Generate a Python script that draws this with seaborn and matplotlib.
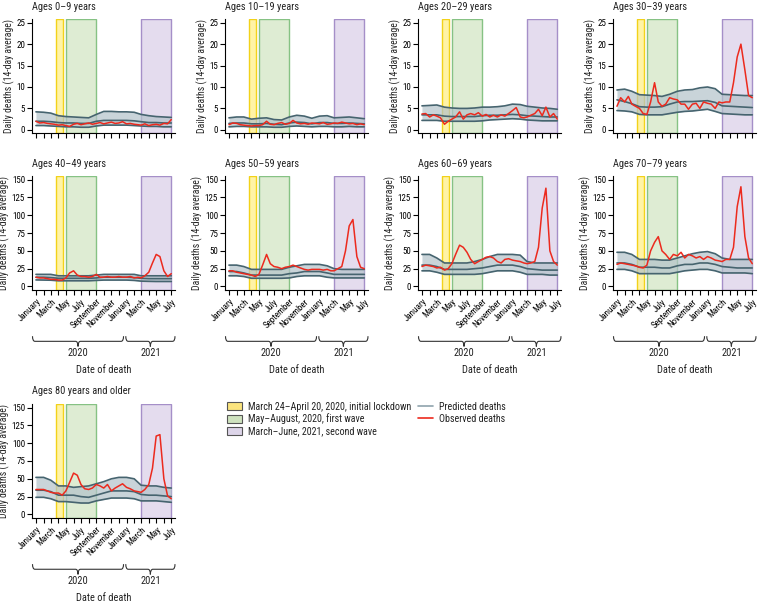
import numpy as np
import pandas as pd
import seaborn as sns
import matplotlib.pyplot as plt
import matplotlib.dates as mdates
from matplotlib.path import Path
from matplotlib.patches import PathPatch, Patch
from matplotlib.lines import Line2D

# date grids: monthly for the predicted band, twice a month for observed deaths
MONTHS = pd.date_range('2020-01-01', '2021-07-01', freq='MS')
HALF_MONTHS = pd.DatetimeIndex(sorted(list(MONTHS) + list(MONTHS[:-1] + pd.Timedelta(days=15))))

MONTH_LABELS = ['January', '', 'March', '', 'May', '', 'July', '', 'September', '',
                'November', '', 'January', '', 'March', '', 'May', '', 'July']

# ---- values ----
A0_UP = [4.2, 4.1, 3.9, 3.3, 3.1, 3.0, 2.9, 2.8, 3.6, 4.3, 4.3, 4.2, 4.2, 4.1, 3.6, 3.3, 3.1, 3.0, 2.9]
A0_MID = [2.0, 2.0, 1.9, 1.7, 1.6, 1.6, 1.5, 1.5, 2.0, 2.2, 2.2, 2.2, 2.2, 2.1, 1.9, 1.7, 1.7, 1.6, 1.6]
A0_LOW = [1.0, 1.0, 0.9, 0.8, 0.7, 0.7, 0.6, 0.6, 0.9, 1.1, 1.1, 1.1, 1.1, 1.0, 0.9, 0.8, 0.8, 0.7, 0.7]
A0_OBS = [2.0, 1.6, 1.7, 1.5, 1.4, 1.3, 1.1, 1.2, 1.0, 0.8, 1.3, 1.5, 1.2, 1.4, 1.6, 1.3, 1.5, 1.7, 1.4,
          1.6, 1.8, 1.5, 1.6, 1.9, 1.4, 1.5, 1.3, 1.2, 1.1, 1.4, 1.0, 1.2, 1.3, 1.1, 1.5, 1.4, 2.4]

A10_UP = [2.8, 3.0, 3.0, 2.5, 2.7, 2.8, 2.4, 2.3, 3.0, 3.4, 3.2, 2.7, 3.2, 3.3, 2.8, 2.9, 3.0, 2.8, 2.6]
A10_MID = [1.5, 1.6, 1.6, 1.4, 1.4, 1.5, 1.3, 1.2, 1.6, 1.8, 1.7, 1.4, 1.7, 1.7, 1.5, 1.5, 1.6, 1.5, 1.4]
A10_LOW = [0.7, 0.8, 0.8, 0.7, 0.7, 0.7, 0.6, 0.6, 0.8, 0.9, 0.8, 0.7, 0.8, 0.8, 0.7, 0.7, 0.8, 0.7, 0.7]
A10_OBS = [1.2, 1.6, 1.5, 1.2, 1.1, 1.0, 0.9, 1.0, 1.0, 1.2, 2.0, 1.3, 1.2, 1.5, 1.7, 1.3, 1.5, 2.2, 1.6,
           1.4, 1.5, 1.3, 1.6, 1.5, 1.4, 1.7, 1.3, 1.4, 1.6, 1.5, 1.8, 1.6, 1.4, 1.5, 1.2, 1.4, 1.2]

A20_UP = [5.6, 5.7, 5.8, 5.3, 5.1, 5.0, 5.0, 5.1, 5.3, 5.3, 5.4, 5.6, 6.0, 5.9, 5.5, 5.3, 5.1, 5.0, 4.8]
A20_MID = [3.5, 3.5, 3.5, 3.2, 3.1, 3.1, 3.1, 3.1, 3.3, 3.4, 3.4, 3.5, 3.6, 3.5, 3.3, 3.2, 3.1, 3.0, 3.0]
A20_LOW = [2.2, 2.2, 2.2, 2.0, 2.0, 2.0, 2.0, 2.0, 2.1, 2.3, 2.4, 2.5, 2.6, 2.5, 2.3, 2.2, 2.1, 2.1, 2.1]
A20_OBS = [3.7, 3.8, 3.0, 3.5, 3.2, 2.8, 1.3, 2.0, 2.5, 3.0, 4.2, 2.5, 3.5, 3.8, 3.5, 4.0, 3.2, 3.6, 3.0,
           3.4, 3.0, 3.5, 3.2, 3.8, 4.5, 5.2, 3.0, 2.8, 3.0, 3.4, 3.8, 4.8, 3.3, 5.3, 3.0, 3.8, 2.5]

A30_UP = [9.3, 9.5, 9.0, 8.2, 8.1, 8.0, 7.8, 8.3, 9.0, 9.3, 9.4, 9.8, 10.0, 9.6, 8.3, 8.2, 8.1, 8.0, 8.0]
A30_MID = [7.0, 6.6, 6.1, 5.4, 5.3, 5.3, 5.4, 6.0, 6.5, 6.6, 6.6, 6.7, 6.8, 6.4, 5.6, 5.5, 5.4, 5.3, 5.2]
A30_LOW = [4.5, 4.4, 4.2, 3.6, 3.5, 3.5, 3.5, 3.8, 4.1, 4.3, 4.4, 4.6, 4.8, 4.3, 3.8, 3.7, 3.6, 3.5, 3.5]
A30_OBS = [5.5, 7.5, 6.5, 7.8, 6.0, 5.5, 5.0, 3.8, 3.6, 6.5, 11.0, 6.5, 5.5, 6.0, 7.5, 7.2, 7.0, 6.0, 6.0,
           4.8, 6.0, 6.2, 5.0, 6.5, 6.2, 6.0, 5.0, 6.5, 6.3, 6.5, 6.5, 11.0, 17.0, 20.0, 14.0, 8.0, 7.5]

A40_UP = [17, 17, 17, 15, 15, 15, 15, 15, 16, 17, 17, 17, 17, 17, 15, 15, 15, 15, 15]
A40_MID = [13, 13, 12.5, 11.5, 11.5, 11.5, 11.5, 11.5, 12, 13, 13, 13, 13, 12.5, 11.5, 11, 11, 11, 11]
A40_LOW = [9.2, 9, 8.8, 8, 8, 8, 8, 8, 8.5, 9, 9, 9, 9, 8.5, 7.5, 7.2, 7, 7, 7]
A40_OBS = [13, 12, 12, 11, 10, 10, 9, 9, 12, 19, 22, 16, 14, 14, 13, 14, 17, 13, 13,
           14, 13, 13, 14, 13, 13, 14, 12, 13, 12, 15, 20, 33, 45, 42, 22, 14, 18]

A50_UP = [30, 30, 28, 24, 24, 24, 24, 24, 27, 29, 31, 31, 31, 29, 25, 24, 24, 24, 24]
A50_MID = [21, 21, 19, 16, 16, 16, 16, 16, 18, 19, 21, 21, 21, 19, 17, 17, 17, 17, 17]
A50_LOW = [15, 15, 14, 11.5, 11.5, 11.5, 11.5, 11.5, 12, 14, 15, 15, 15, 13, 12, 12, 12, 12, 12]
A50_OBS = [22, 22, 20, 19, 18, 17, 16, 14, 17, 30, 45, 32, 28, 27, 25, 27, 28, 30, 28,
           26, 24, 23, 24, 24, 24, 23, 24, 22, 22, 25, 28, 50, 85, 94, 42, 27, 25]

A60_UP = [45, 45, 40, 33, 33, 33, 33, 35, 38, 42, 45, 45, 45, 44, 35, 33, 33, 33, 33]
A60_MID = [30, 30, 28, 24, 24, 24, 24, 25, 26, 28, 30, 30, 30, 28, 25, 24, 23, 23, 23]
A60_LOW = [22, 22, 20, 17, 17, 17, 17, 17, 18, 20, 22, 22, 22, 20, 17, 17, 17, 16, 16]
A60_OBS = [28, 30, 29, 28, 26, 27, 23, 25, 32, 45, 58, 55, 48, 38, 32, 35, 38, 41, 42,
           40, 35, 33, 38, 39, 37, 36, 35, 33, 32, 33, 35, 55, 110, 138, 50, 35, 30]

A70_UP = [48, 48, 45, 38, 38, 38, 37, 37, 40, 43, 46, 48, 49, 46, 40, 38, 38, 38, 38]
A70_MID = [33, 33, 31, 27, 27, 27, 26, 26, 29, 31, 31, 33, 33, 31, 28, 27, 26, 26, 26]
A70_LOW = [24, 24, 22, 18, 18, 18, 18, 18, 20, 22, 23, 24, 24, 22, 19, 19, 19, 19, 18]
A70_OBS = [31, 33, 32, 31, 30, 29, 27, 26, 30, 50, 62, 70, 50, 45, 38, 45, 43, 48, 40,
           45, 43, 40, 42, 38, 42, 40, 37, 36, 35, 38, 38, 55, 112, 140, 70, 40, 32]

A80_UP = [52, 52, 48, 40, 40, 38, 39, 40, 43, 46, 50, 52, 52, 50, 41, 40, 40, 38, 37]
A80_MID = [34, 34, 32, 27, 27, 27, 25, 24, 27, 30, 33, 33, 33, 32, 28, 27, 27, 26, 25]
A80_LOW = [24, 24, 22, 18, 18, 17, 16, 16, 19, 21, 23, 23, 23, 22, 19, 19, 19, 18, 17]
A80_OBS = [35, 35, 35, 33, 31, 30, 30, 27, 33, 45, 58, 55, 42, 36, 35, 37, 42, 40, 37,
           42, 33, 37, 40, 43, 38, 36, 33, 32, 31, 35, 42, 65, 110, 112, 50, 26, 22]

PANELS = [
    ('Ages 0–9 years', A0_UP, A0_MID, A0_LOW, A0_OBS),
    ('Ages 10–19 years', A10_UP, A10_MID, A10_LOW, A10_OBS),
    ('Ages 20–29 years', A20_UP, A20_MID, A20_LOW, A20_OBS),
    ('Ages 30–39 years', A30_UP, A30_MID, A30_LOW, A30_OBS),
    ('Ages 40–49 years', A40_UP, A40_MID, A40_LOW, A40_OBS),
    ('Ages 50–59 years', A50_UP, A50_MID, A50_LOW, A50_OBS),
    ('Ages 60–69 years', A60_UP, A60_MID, A60_LOW, A60_OBS),
    ('Ages 70–79 years', A70_UP, A70_MID, A70_LOW, A70_OBS),
    ('Ages 80 years and older', A80_UP, A80_MID, A80_LOW, A80_OBS),
]

PERIODS = [
    ('2020-03-24', '2020-04-20', '#fff3a6', '#f2d21a', 'March 24–April 20, 2020, initial lockdown', '#fbe47e'),
    ('2020-05-01', '2020-08-31', '#deecd3', '#86c284', 'May–August, 2020, first wave', '#cfe3bf'),
    ('2021-03-01', '2021-06-30', '#e4dcee', '#a58fc8', 'March–June, 2021, second wave', '#ddd5e9'),
]

PRED_COLOR = '#46646f'
BAND_COLOR = '#b3c2ca'
OBS_COLOR = '#ec2a1e'

sns.set_theme(style='ticks', rc={'axes.edgecolor': 'black', 'axes.linewidth': 0.8,
                                 'xtick.color': 'black', 'ytick.color': 'black'})
plt.rcParams['font.family'] = ['Roboto Condensed', 'Lato', 'DejaVu Sans']
plt.rcParams['text.color'] = '#222222'


def brace(ax, x0, x1, y, h, label):
    # curly brace drawn in (data x, axes y) coordinates
    x0 = mdates.date2num(pd.Timestamp(x0))
    x1 = mdates.date2num(pd.Timestamp(x1))
    xm = (x0 + x1) / 2
    d = 10
    verts = [(x0, y + h), (x0, y), (x0 + d, y), (xm - d, y), (xm, y), (xm, y - h),
             (xm, y), (xm + d, y), (x1 - d, y), (x1, y), (x1, y + h)]
    codes = [Path.MOVETO, Path.CURVE3, Path.CURVE3, Path.LINETO, Path.CURVE3, Path.CURVE3,
             Path.CURVE3, Path.CURVE3, Path.LINETO, Path.CURVE3, Path.CURVE3]
    ax.add_patch(PathPatch(Path(verts, codes), fill=False, lw=0.8, edgecolor='#333333',
                           transform=ax.get_xaxis_transform(), clip_on=False))
    ax.text(xm, y - 0.1, label, transform=ax.get_xaxis_transform(), ha='center', va='center',
            fontsize=7.5)


fig = plt.figure(figsize=(7.59, 6.03), dpi=100)

lefts = [32 / 759, 225 / 759, 418 / 759, 613 / 759]
bottoms = [0.779, 0.519, 0.141]
width, height = 143 / 759, 0.189
xmin, xmax = pd.Timestamp('2019-12-16'), pd.Timestamp('2021-07-16')

for i, (title, up, mid, low, obs) in enumerate(PANELS):
    row, col = divmod(i, 4)
    ax = fig.add_axes([lefts[col], bottoms[row], width, height])

    for start, end, face, edge, _, _ in PERIODS:
        ax.axvspan(pd.Timestamp(start), pd.Timestamp(end), facecolor=face, edgecolor=edge,
                   lw=1.0, zorder=0)

    ax.fill_between(MONTHS, low, up, color=BAND_COLOR, alpha=0.7, lw=0, zorder=1)
    for series in (up, mid, low):
        sns.lineplot(x=MONTHS, y=series, ax=ax, color=PRED_COLOR, lw=1.2, zorder=2)
    sns.lineplot(x=HALF_MONTHS, y=obs, ax=ax, color=OBS_COLOR, lw=1.1, zorder=3)

    if row == 0:
        ax.set_ylim(-0.8, 25.8)
        ax.set_yticks([0, 5, 10, 15, 20, 25])
    else:
        ax.set_ylim(-5, 155)
        ax.set_yticks([0, 25, 50, 75, 100, 125, 150])
    ax.set_xlim(xmin, xmax)
    ax.set_xticks(MONTHS)
    ax.tick_params(labelsize=6.5, length=3.5, width=0.8, pad=1.5)
    ax.set_ylabel('Daily deaths (14-day average)', fontsize=7, labelpad=1)
    ax.set_xlabel('')
    sns.despine(ax=ax)
    ax.text(0, 1.11, title, transform=ax.transAxes, ha='left', va='center', fontsize=7.5)

    if row == 0:
        ax.set_xticklabels([])
    else:
        ax.set_xticklabels(MONTH_LABELS, rotation=45, ha='right', rotation_mode='anchor')
        brace(ax, '2019-12-18', '2020-12-20', -0.45, 0.045, '2020')
        brace(ax, '2020-12-29', '2021-07-16', -0.45, 0.045, '2021')
        ax.text(0.5, -0.70, 'Date of death', transform=ax.transAxes, ha='center', va='center',
                fontsize=7.5)

handles = [Patch(facecolor=p[5], edgecolor='#555555', lw=0.8) for p in PERIODS]
handles += [Line2D([], [], color='#8fa3ad', lw=1.2), Line2D([], [], color=OBS_COLOR, lw=1.2)]
labels = [p[4] for p in PERIODS] + ['Predicted deaths', 'Observed deaths']
fig.legend(handles, labels, ncol=2, loc='upper left', bbox_to_anchor=(0.287, 0.349),
           frameon=False, fontsize=7.2, handlelength=1.5, handleheight=0.9, handletextpad=0.6,
           columnspacing=0.7, labelspacing=0.2)

fig.savefig('out.png', dpi=100)
